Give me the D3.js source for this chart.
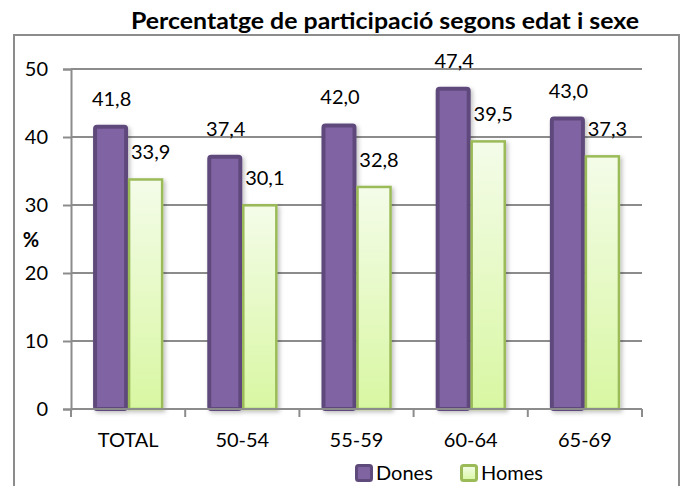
<!DOCTYPE html>
<html>
<head>
<meta charset="utf-8">
<script src="https://cdn.jsdelivr.net/npm/d3@7"></script>
<style>
  body { margin: 0; background: #fff; }
  svg { font-family: Lato, "Open Sans", sans-serif; }
</style>
</head>
<body>
<div id="chart"></div>
<script>
// dades llegides del gràfic
const categories = ["TOTAL", "50-54", "55-59", "60-64", "65-69"];
const dones = [41.8, 37.4, 42.0, 47.4, 43.0];
const homes = [33.9, 30.1, 32.8, 39.5, 37.3];
const seriesNames = ["Dones", "Homes"];
const yTicks = [0, 10, 20, 30, 40, 50];

const W = 684, H = 486;
const x0 = 71, x1 = 642, yTop = 69, yBot = 409;
const FS = 20;

const svg = d3.select("#chart").append("svg")
    .attr("width", W).attr("height", H);

// degradat per a Homes
const defs = svg.append("defs");
const grad = defs.append("linearGradient").attr("id", "gHomes")
    .attr("x1", 0).attr("y1", 0).attr("x2", 0).attr("y2", 1);
grad.append("stop").attr("offset", "0%").attr("stop-color", "#f4fce9");
grad.append("stop").attr("offset", "100%").attr("stop-color", "#d8f7a2");

const shadow = defs.append("filter").attr("id", "sh")
    .attr("x", "-20%").attr("y", "-5%").attr("width", "150%").attr("height", "115%");
shadow.append("feDropShadow").attr("dx", 2).attr("dy", 2).attr("stdDeviation", 2)
    .attr("flood-color", "#000").attr("flood-opacity", 0.25);

// marc exterior
svg.append("rect").attr("x", 14).attr("y", 35).attr("width", 665).attr("height", 470)
    .attr("fill", "none").attr("stroke", "#8c8c8c").attr("stroke-width", 2);

// títol
svg.append("text").attr("x", 385).attr("y", 29).attr("text-anchor", "middle")
    .attr("font-size", 22).attr("font-weight", "bold").attr("fill", "#000")
    .attr("textLength", 508).attr("lengthAdjust", "spacingAndGlyphs")
    .text("Percentatge de participació segons edat i sexe");

const x = d3.scaleBand().domain(categories).range([x0, x1]).paddingInner(0).paddingOuter(0);
const y = d3.scaleLinear().domain([0, 50]).range([yBot, yTop]);
const xs = d3.scaleBand().domain(seriesNames).range([0, x.bandwidth()]).paddingOuter(0.63).paddingInner(0);

// línies de graella
svg.append("g").selectAll("line").data(yTicks.filter(d => d > 0)).join("line")
    .attr("x1", x0).attr("x2", x1).attr("y1", d => y(d)).attr("y2", d => y(d))
    .attr("stroke", "#8c8c8c").attr("stroke-width", 2);

// eix Y
const yAxis = svg.append("g").attr("transform", `translate(${x0},0)`)
    .call(d3.axisLeft(y).tickValues(yTicks).tickSize(8).tickPadding(15).tickFormat(d3.format("d")));
yAxis.select(".domain").attr("stroke", "#8c8c8c").attr("stroke-width", 2);
yAxis.selectAll(".tick line").attr("stroke", "#8c8c8c").attr("stroke-width", 2);
yAxis.selectAll(".tick text").attr("font-size", FS).attr("fill", "#000").attr("font-family", "Lato");

svg.append("text").attr("x", 31).attr("y", 247).attr("text-anchor", "middle")
    .attr("font-size", FS).attr("font-weight", "bold").text("%");

// barres
const rows = categories.map((c, i) => ({ cat: c, vals: [dones[i], homes[i]] }));
const groups = svg.append("g").selectAll("g").data(rows).join("g")
    .attr("transform", d => `translate(${x(d.cat)},0)`);

const fmt = v => d3.format(".1f")(v).replace(".", ",");

groups.each(function (d) {
    const g = d3.select(this);
    // Dones
    g.append("rect")
        .attr("x", xs("Dones") + 2).attr("y", y(d.vals[0]) + 2)
        .attr("width", xs.bandwidth() - 4).attr("height", yBot - y(d.vals[0]) - 2)
        .attr("rx", 2)
        .attr("fill", "#8064a2").attr("stroke", "#5f4a7c").attr("stroke-width", 4)
        .attr("filter", "url(#sh)");
    // Homes
    g.append("rect")
        .attr("x", xs("Homes") + 1).attr("y", y(d.vals[1]) + 1)
        .attr("width", xs.bandwidth() - 2).attr("height", yBot - y(d.vals[1]) - 1)
        .attr("fill", "url(#gHomes)").attr("stroke", "#9bbb59").attr("stroke-width", 2.5)
        .attr("filter", "url(#sh)");
    // etiquetes
    g.append("text").attr("x", xs("Dones") + xs.bandwidth() / 2 + 1).attr("y", y(d.vals[0]) - 19)
        .attr("text-anchor", "middle").attr("font-size", FS)
        .text(fmt(d.vals[0]));
    g.append("text").attr("x", xs("Homes") + xs.bandwidth() / 2 + 5).attr("y", y(d.vals[1]) - 19)
        .attr("text-anchor", "middle").attr("font-size", FS)
        .text(fmt(d.vals[1]));
});

// eix X
const xAxis = svg.append("g").attr("transform", `translate(0,${yBot})`)
    .call(d3.axisBottom(x).tickSize(0).tickPadding(24));
xAxis.select(".domain").remove();
xAxis.selectAll(".tick text").attr("font-size", FS).attr("fill", "#000").attr("font-family", "Lato");
svg.append("line").attr("x1", x0).attr("x2", x1).attr("y1", yBot).attr("y2", yBot)
    .attr("stroke", "#8c8c8c").attr("stroke-width", 2);
const edges = categories.map(c => x(c)).concat([x1]);
svg.append("g").selectAll("line").data(edges).join("line")
    .attr("x1", d => d).attr("x2", d => d).attr("y1", yBot).attr("y2", yBot + 8)
    .attr("stroke", "#8c8c8c").attr("stroke-width", 2);

// llegenda
const legend = svg.append("g").attr("transform", "translate(355,473)");
const legItems = [
    { name: "Dones", fill: "#8064a2", stroke: "#5f4a7c", x: 0 },
    { name: "Homes", fill: "url(#gHomes)", stroke: "#9bbb59", x: 105 }
];
legItems.forEach(it => {
    legend.append("rect").attr("x", it.x + 1.5).attr("y", -7.5).attr("width", 15).attr("height", 15)
        .attr("rx", 2)
        .attr("fill", it.fill).attr("stroke", it.stroke).attr("stroke-width", 3);
    legend.append("text").attr("x", it.x + 21).attr("y", 7).attr("font-size", FS).text(it.name);
});
</script>
</body>
</html>
